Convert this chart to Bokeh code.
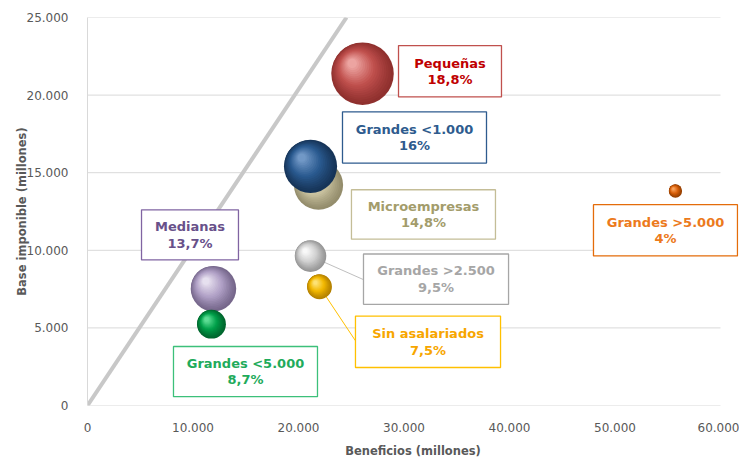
from bokeh.plotting import figure
from bokeh.models import FixedTicker, BoxAnnotation, Label
from bokeh.embed import file_html
from bokeh.resources import INLINE

# ---- data ----
names = ["Pequeñas", "Microempresas", "Grandes <1.000", "Medianas",
         "Grandes >2.500", "Sin asalariados", "Grandes <5.000", "Grandes >5.000"]
beneficios = [26070, 21900, 21140, 11940, 21140, 21990, 11750, 55730]
base_imponible = [21380, 14200, 15410, 7530, 9625, 7655, 5240, 13820]
pct = [18.8, 14.8, 16.0, 13.7, 9.5, 7.5, 8.7, 4.0]

x_ticks = [0, 10000, 20000, 30000, 40000, 50000, 60000]
x_tick_labels = ["0", "10.000", "20.000", "30.000", "40.000", "50.000", "60.000"]
y_ticks = [0, 5000, 10000, 15000, 20000, 25000]
y_tick_labels = ["0", "5.000", "10.000", "15.000", "20.000", "25.000"]

ref_line_x = [0, 24550]
ref_line_y = [0, 25000]

# ---- styles / layout ----
sphere_cols = [  # dark, base, light
    ("#7a2220", "#c0504d", "#f4b3b0"),
    ("#7d7656", "#c9c29f", "#f3f1e6"),
    ("#0e2440", "#2a5a90", "#7ea3cf"),
    ("#5d4f72", "#b0a0c6", "#f0ebf6"),
    ("#7f7f7f", "#d0d0d0", "#ffffff"),
    ("#9a6a00", "#f2b800", "#ffe98a"),
    ("#004d22", "#00a04a", "#6fe8a2"),
    ("#7a3300", "#d8600a", "#ffae6a"),
]
text_cols = ["#c00000", "#a39c6b", "#2e5b8e", "#68518a", "#a6a6a6", "#f7a600", "#1fab5b", "#ec7a1c"]
border_cols = ["#c0504d", "#c4bd97", "#2e5b8e", "#8064a2", "#a6a6a6", "#ffc000", "#3cc07a", "#e46c0a"]
# label boxes (left, right, top, bottom) in data units
boxes = [
    (29480, 39240, 23190, 19880),
    (25020, 38670, 13900, 10720),
    (24170, 37820, 18920, 15620),
    (5120, 14310, 12610, 9380),
    (26160, 39910, 9760, 6520),
    (25400, 39150, 5760, 2450),
    (8150, 21800, 3800, 570),
    (47960, 61610, 12940, 9640),
]
leaders = {4: (26160, 8110, "#bfbfbf"), 5: (25400, 4170, "#ffc000")}

W, H = 739, 460
ML, MR, MT, MB = 87, 1, 17, 50
AXIS_RIGHT_PX = 720  # where 60.000 sits
X_MAX = x_ticks[-1]
X_END = X_MAX * (W - MR - ML) / (AXIS_RIGHT_PX - ML)
PXX = X_END / (W - ML - MR)
PXY = 25000 / (H - MT - MB)
R_PER_PCT = 1.66

p = figure(width=W, height=H, x_range=(0, X_END), y_range=(0, y_ticks[-1]),
           output_backend="svg", toolbar_location=None,
           min_border_left=ML, min_border_right=MR, min_border_top=MT, min_border_bottom=MB)
p.outline_line_color = None
p.background_fill_color = "white"
p.border_fill_color = "white"
p.xgrid.visible = False
p.ygrid.visible = False

for ax, ticks, labels in ((p.xaxis[0], x_ticks, x_tick_labels), (p.yaxis[0], y_ticks, y_tick_labels)):
    ax.ticker = FixedTicker(ticks=ticks)
    ax.major_label_overrides = {t: l for t, l in zip(ticks, labels)}
    ax.major_tick_line_color = None
    ax.minor_tick_line_color = None
    ax.axis_line_color = "#d9d9d9"
    ax.major_label_text_font = "DejaVu Sans"
    ax.major_label_text_font_size = "12px"
    ax.major_label_text_color = "#595959"
    ax.axis_label_text_font = "DejaVu Sans"
    ax.axis_label_text_font_size = "11.5px"
    ax.axis_label_text_font_style = "bold"
    ax.axis_label_text_color = "#595959"

p.xaxis.axis_line_color = None
p.xaxis.axis_label = "Beneficios (millones)"
p.yaxis.axis_label = "Base imponible (millones)"
p.xaxis.major_label_standoff = 11
p.xaxis.axis_label_standoff = 9
p.yaxis.major_label_standoff = 13
p.yaxis.axis_label_standoff = -5

# horizontal gridlines (and x axis line) limited to the 0..60.000 span
p.segment(x0=[0] * len(y_ticks), y0=y_ticks, x1=[X_MAX] * len(y_ticks), y1=y_ticks,
          line_color="#d9d9d9", line_width=1)

# reference line
p.line(ref_line_x, ref_line_y, line_color="#c8c8c8", line_width=4)

# leader lines
for i, (ex, ey, col) in leaders.items():
    p.line([beneficios[i], ex], [base_imponible[i], ey], line_color=col, line_width=1)


def hx(c):
    c = c.lstrip("#")
    return [int(c[k:k + 2], 16) for k in (0, 2, 4)]


def mix(a, b, t):
    A, B = hx(a), hx(b)
    return "#%02x%02x%02x" % tuple(int(round(A[k] + (B[k] - A[k]) * t)) for k in range(3))


def shade(dark, base, light, pos):
    if pos <= 1:
        return mix(dark, base, pos)
    return mix(base, light, pos - 1)


N_LAYERS = 18
layers = []
for k in range(N_LAYERS):
    t = k / (N_LAYERS - 1)
    f = 1.0 - 0.85 * t
    off = 0.33 * (t ** 0.8)
    c = 0.3 + 1.55 * (t ** 1.1)
    layers.append((f, off, c))

for i in range(len(names)):
    r = pct[i] * R_PER_PCT
    dark, base, light = sphere_cols[i]
    xs = [beneficios[i] - off * r * PXX for f, off, c in layers]
    ys = [base_imponible[i] + off * r * PXY for f, off, c in layers]
    sz = [2 * r * f for f, off, c in layers]
    cols = [shade(dark, base, light, c) for f, off, c in layers]
    p.scatter(x=xs, y=ys, size=sz, fill_color=cols, line_color=None)


def fmt_pct(v):
    s = ("%d" % v) if float(v).is_integer() else ("%.1f" % v).replace(".", ",")
    return s + "%"


for i in range(len(names)):
    l, rgt, t, b = boxes[i]
    p.add_layout(BoxAnnotation(left=l, right=rgt, top=t, bottom=b, fill_color="white", fill_alpha=1,
                               line_color=border_cols[i], line_alpha=1, line_width=1.3))
    p.add_layout(Label(x=(l + rgt) / 2, y=(t + b) / 2, text=names[i] + "\n" + fmt_pct(pct[i]),
                       text_align="center", text_baseline="middle",
                       text_font="DejaVu Sans", text_font_style="bold", text_font_size="13px",
                       text_color=text_cols[i], text_line_height=1.1))

open("out.html", "w").write(file_html(p, INLINE))
